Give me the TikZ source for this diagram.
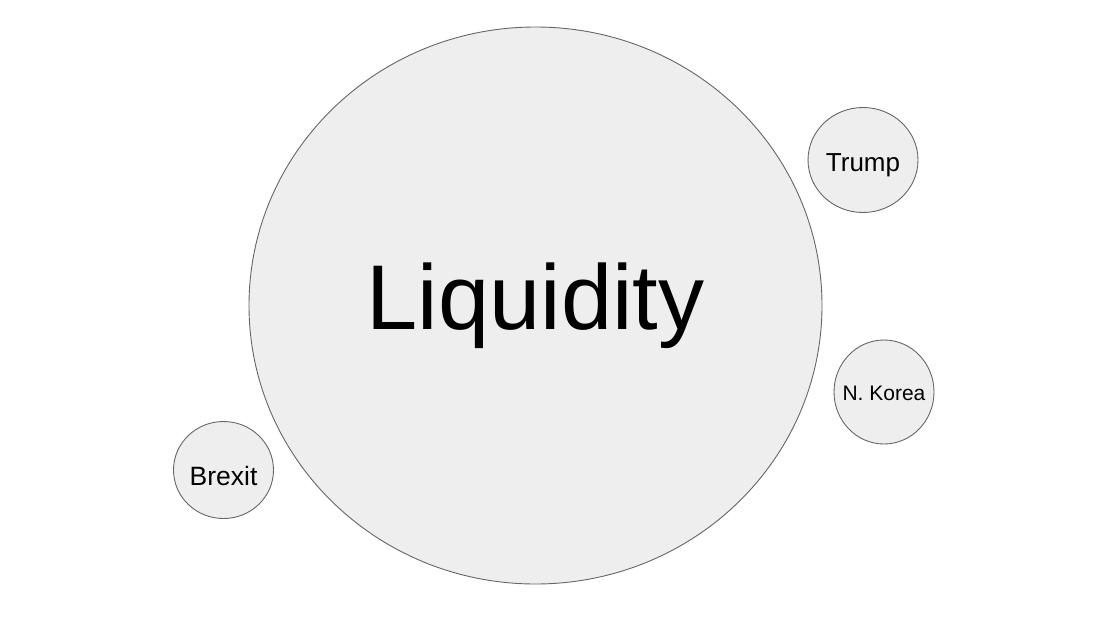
\documentclass[tikz,border=0pt]{standalone}
\usepackage{fontspec}
\setmainfont{Liberation Sans}
\usepackage{tikz}
\usetikzlibrary{shapes.geometric}

\definecolor{bubblefill}{HTML}{EEEEEE}
\definecolor{bubbleline}{HTML}{666666}

\begin{document}
\begin{tikzpicture}[x=1pt,y=-1pt,
    bubble/.style={ellipse, draw=bubbleline, fill=bubblefill, line width=0.9pt, inner sep=0pt, text=black},
    small/.style={inner sep=-20pt, text depth=0pt}]
                      \useasboundingbox (0,0) rectangle (1100,624);
                      \node[bubble, minimum width=573pt, minimum height=557pt, font=\fontsize{92}{92}\selectfont] (liquidity) at (535.5,305.5) {Liquidity};
                      \node[bubble, small, text height=22pt, minimum width=110pt, minimum height=105pt, font=\fontsize{26}{26}\selectfont] (trump) at (863,160) {Trump};
                      \node[bubble, small, text height=17pt, minimum width=100pt, minimum height=104pt, font=\fontsize{21}{21}\selectfont] (korea) at (884,392) {N. Korea};
                      \node[bubble, small, text height=30pt, minimum width=100pt, minimum height=97pt, font=\fontsize{26.5}{26.5}\selectfont] (brexit) at (223.5,470) {Brexit};
                  \end{tikzpicture}
\end{document}
